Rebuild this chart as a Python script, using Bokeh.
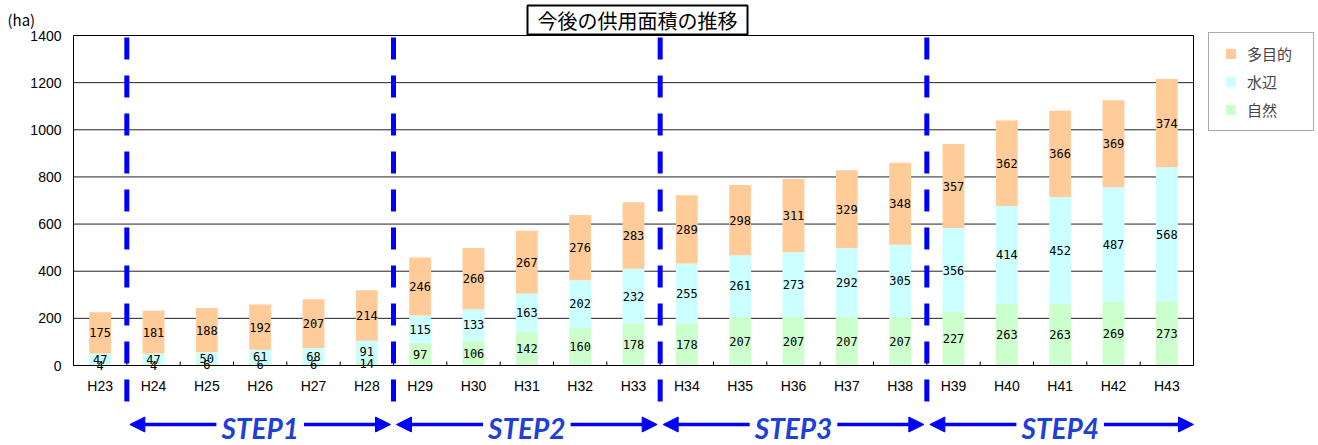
import numpy as np
from bokeh.plotting import figure
from bokeh.models import (ColumnDataSource, Range1d, Label, Arrow, NormalHead, Legend, LegendItem)
from bokeh.embed import file_html
from bokeh.resources import INLINE
from bokeh.core.properties import value

# ---------------- data ----------------
categories = ["H23", "H24", "H25", "H26", "H27", "H28", "H29", "H30", "H31", "H32", "H33",
              "H34", "H35", "H36", "H37", "H38", "H39", "H40", "H41", "H42", "H43"]
natural = [4, 4, 6, 6, 6, 14, 97, 106, 142, 160, 178, 178, 207, 207, 207, 207, 227, 263, 263, 269, 273]
waterside = [47, 47, 50, 61, 68, 91, 115, 133, 163, 202, 232, 255, 261, 273, 292, 305, 356, 414, 452, 487, 568]
multipurpose = [175, 181, 188, 192, 207, 214, 246, 260, 267, 276, 283, 289, 298, 311, 329, 348, 357, 362, 366, 369, 374]
series_keys = ["natural", "waterside", "multipurpose"]
series_names = ["自然", "水辺", "多目的"]
series_colors = ["#CCFFCC", "#CCFFFF", "#FFCC99"]
y_ticks = [0, 200, 400, 600, 800, 1000, 1200, 1400]
step_names = ["STEP1", "STEP2", "STEP3", "STEP4"]
step_first = ["H24", "H29", "H34", "H39"]
title_text = "今後の供用面積の推移"
unit_text = "(ha)"

# ---------------- geometry (pixels of the page) ----------------
W, H = 1318, 444
PL, PR, PT, PB = 73, 1193, 35, 365          # plot-area box
n = len(categories)
xs = list(range(n))
Y_MAX = y_ticks[-1]
xppu = (PR - PL) / n                         # px per category
yupp = Y_MAX / (PB - PT)                     # data units per px

p = figure(width=W, height=H,
           x_range=Range1d(-0.5 - PL / xppu, n - 0.5 + (W - PR) / xppu),
           y_range=Range1d(-(H - PB) * yupp, Y_MAX + PT * yupp),
           output_backend="svg", toolbar_location=None, x_axis_type=None, y_axis_type=None,
           min_border=0)
p.outline_line_color = None
p.background_fill_color = "white"
p.border_fill_color = "white"

# grid lines
p.segment(x0=-0.5, x1=n - 0.5, y0=y_ticks, y1=y_ticks, line_color="#222222", line_width=1)

# ---------------- bars ----------------
src = ColumnDataSource(dict(x=xs, natural=natural, waterside=waterside, multipurpose=multipurpose))
p.vbar_stack(series_keys, x="x", width=0.41, color=series_colors, line_color=None, source=src)

# plot-area frame (axes lines)
p.quad(left=-0.5, right=n - 0.5, bottom=0, top=Y_MAX, fill_color=None, line_color="black", line_width=1)

# y tick labels
p.text(x=-0.5, y=y_ticks, text=[str(t) for t in y_ticks], x_offset=-12,
       text_align="right", text_baseline="middle", text_color="black",
       text_font=value("Liberation Sans"), text_font_size=value("14px"))
# x tick marks (category boundaries) and labels
bnds = [i - 0.5 for i in range(n + 1)]
p.segment(x0=bnds, x1=bnds, y0=0, y1=4 * yupp, line_color="black", line_width=1)
p.text(x=xs, y=0, text=categories, y_offset=12, text_align="center", text_baseline="top",
       text_color="black", text_font=value("Liberation Sans"), text_font_size=value("14px"))

# value labels
lx, ly, lt = [], [], []
bottom = np.zeros(n)
for vals in (natural, waterside, multipurpose):
    v = np.array(vals, dtype=float)
    lx += xs
    ly += list(bottom + v / 2)
    lt += [str(a) for a in vals]
    bottom = bottom + v
p.text(x=lx, y=ly, text=lt, text_align="center", text_baseline="middle",
       text_font=value("DejaVu Sans Mono"), text_font_size=value("12px"), text_color="black")

# ---------------- step separators & arrows ----------------
bounds = [categories.index(c) - 0.5 for c in step_first]
ends = bounds[1:] + [n - 0.5]
blue = "#0000FF"
p.segment(x0=bounds, x1=bounds, y0=Y_MAX - 2 * yupp, y1=-40 * yupp,
          line_color=blue, line_width=5, line_dash="22 16", line_cap="butt")
gap = 3 / xppu
for name, b, e in zip(step_names, bounds, ends):
    e2 = e - gap if e < n - 0.5 else e
    p.add_layout(Arrow(start=NormalHead(size=15, fill_color=blue, line_color=blue),
                       end=NormalHead(size=15, fill_color=blue, line_color=blue),
                       x_start=b + gap, x_end=e2, y_start=-59 * yupp, y_end=-59 * yupp,
                       line_color=blue, line_width=3.5))
    p.add_layout(Label(x=(b + e) / 2, y=-62 * yupp, text=name, text_align="center", text_baseline="middle",
                       text_font="Lato", text_font_style="bold italic", text_font_size="28px",
                       text_color="#1E3FD8", background_fill_color="white", padding=(5, 0)))

# ---------------- title & unit ----------------
p.add_layout(Label(x=637, y=H - 19.5, x_units="screen", y_units="screen", text=title_text,
                   text_align="center", text_baseline="middle", text_font="Noto Sans CJK JP",
                   text_font_size="20px", text_color="black", border_line_color="black",
                   border_line_width=2, background_fill_color="white", padding=(10, 0)))
p.add_layout(Label(x=7, y=H - 19, x_units="screen", y_units="screen", text=unit_text,
                   text_align="left", text_baseline="middle", text_font="Noto Sans CJK JP",
                   text_font_size="15px", text_color="black"))

# ---------------- legend ----------------
leg_src = ColumnDataSource(dict(x=[0], y=[float("nan")]))
items = []
for name, color in zip(series_names[::-1], series_colors[::-1]):
    r = p.scatter("x", "y", marker="square", fill_color=color, line_color=None, source=leg_src)
    items.append(LegendItem(label=name, renderers=[r]))
legend = Legend(items=items, location=(1208, H - 131), padding=8, spacing=3,
                glyph_width=27, glyph_height=25, label_standoff=3, label_width=58,
                label_text_font="Noto Sans CJK JP", label_text_font_size="15px",
                border_line_color="#555555", border_line_width=1, background_fill_color="white",
                background_fill_alpha=1.0)
p.add_layout(legend)

open("out.html", "w").write(file_html(p, INLINE))
